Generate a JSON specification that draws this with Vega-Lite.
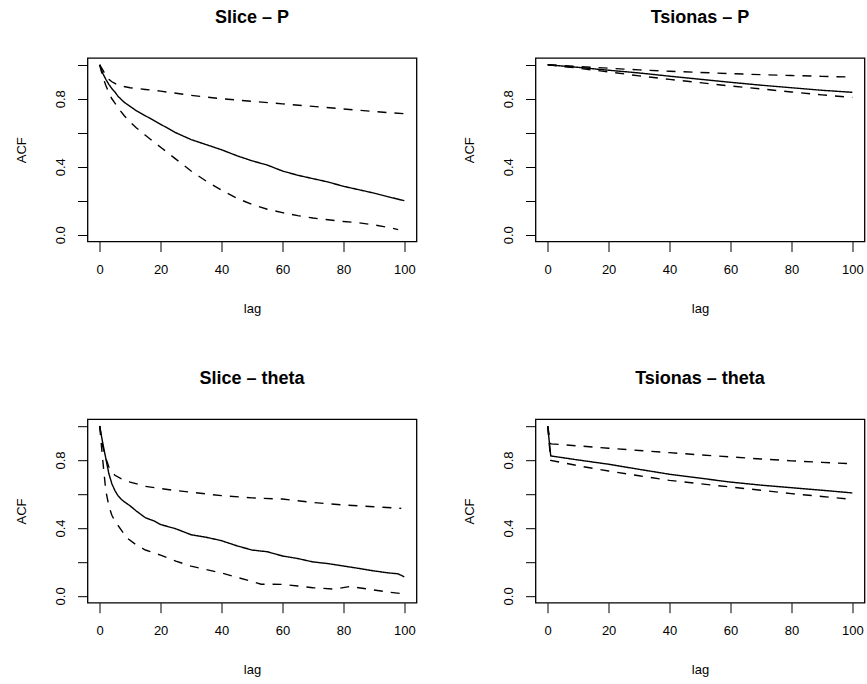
{
"$schema": "https://vega.github.io/schema/vega-lite/v6.json",
"background": "white",
"padding": {"left": 14.5, "top": 8, "right": 0, "bottom": 0},
"datasets": {
"acf": [
{"p":"SP","s":"acf","lag":0,"acf":1},{"p":"SP","s":"acf","lag":1,"acf":0.95},{"p":"SP","s":"acf","lag":2,"acf":0.915},{"p":"SP","s":"acf","lag":3,"acf":0.885},{"p":"SP","s":"acf","lag":4,"acf":0.86},{"p":"SP","s":"acf","lag":5,"acf":0.84},{"p":"SP","s":"acf","lag":6,"acf":0.815},{"p":"SP","s":"acf","lag":8,"acf":0.78},{"p":"SP","s":"acf","lag":10,"acf":0.755},{"p":"SP","s":"acf","lag":12,"acf":0.73},{"p":"SP","s":"acf","lag":15,"acf":0.7},{"p":"SP","s":"acf","lag":20,"acf":0.65},{"p":"SP","s":"acf","lag":25,"acf":0.6},{"p":"SP","s":"acf","lag":30,"acf":0.56},{"p":"SP","s":"acf","lag":35,"acf":0.53},{"p":"SP","s":"acf","lag":40,"acf":0.5},{"p":"SP","s":"acf","lag":45,"acf":0.465},{"p":"SP","s":"acf","lag":50,"acf":0.435},{"p":"SP","s":"acf","lag":55,"acf":0.41},{"p":"SP","s":"acf","lag":60,"acf":0.375},{"p":"SP","s":"acf","lag":65,"acf":0.35},{"p":"SP","s":"acf","lag":70,"acf":0.33},{"p":"SP","s":"acf","lag":75,"acf":0.31},{"p":"SP","s":"acf","lag":80,"acf":0.285},{"p":"SP","s":"acf","lag":85,"acf":0.265},{"p":"SP","s":"acf","lag":90,"acf":0.245},{"p":"SP","s":"acf","lag":95,"acf":0.222},{"p":"SP","s":"acf","lag":100,"acf":0.2},
{"p":"SP","s":"upper","lag":0,"acf":1},{"p":"SP","s":"upper","lag":1,"acf":0.97},{"p":"SP","s":"upper","lag":2,"acf":0.94},{"p":"SP","s":"upper","lag":3,"acf":0.915},{"p":"SP","s":"upper","lag":4,"acf":0.9},{"p":"SP","s":"upper","lag":5,"acf":0.89},{"p":"SP","s":"upper","lag":7,"acf":0.875},{"p":"SP","s":"upper","lag":10,"acf":0.865},{"p":"SP","s":"upper","lag":15,"acf":0.855},{"p":"SP","s":"upper","lag":20,"acf":0.845},{"p":"SP","s":"upper","lag":30,"acf":0.82},{"p":"SP","s":"upper","lag":40,"acf":0.8},{"p":"SP","s":"upper","lag":50,"acf":0.785},{"p":"SP","s":"upper","lag":60,"acf":0.77},{"p":"SP","s":"upper","lag":70,"acf":0.755},{"p":"SP","s":"upper","lag":80,"acf":0.74},{"p":"SP","s":"upper","lag":90,"acf":0.725},{"p":"SP","s":"upper","lag":100,"acf":0.712},
{"p":"SP","s":"lower","lag":0,"acf":1},{"p":"SP","s":"lower","lag":1,"acf":0.93},{"p":"SP","s":"lower","lag":2,"acf":0.88},{"p":"SP","s":"lower","lag":3,"acf":0.835},{"p":"SP","s":"lower","lag":4,"acf":0.8},{"p":"SP","s":"lower","lag":5,"acf":0.775},{"p":"SP","s":"lower","lag":6,"acf":0.748},{"p":"SP","s":"lower","lag":8,"acf":0.702},{"p":"SP","s":"lower","lag":10,"acf":0.663},{"p":"SP","s":"lower","lag":12,"acf":0.63},{"p":"SP","s":"lower","lag":15,"acf":0.585},{"p":"SP","s":"lower","lag":20,"acf":0.515},{"p":"SP","s":"lower","lag":25,"acf":0.445},{"p":"SP","s":"lower","lag":30,"acf":0.375},{"p":"SP","s":"lower","lag":35,"acf":0.315},{"p":"SP","s":"lower","lag":40,"acf":0.262},{"p":"SP","s":"lower","lag":45,"acf":0.215},{"p":"SP","s":"lower","lag":50,"acf":0.178},{"p":"SP","s":"lower","lag":55,"acf":0.15},{"p":"SP","s":"lower","lag":60,"acf":0.13},{"p":"SP","s":"lower","lag":65,"acf":0.112},{"p":"SP","s":"lower","lag":70,"acf":0.098},{"p":"SP","s":"lower","lag":75,"acf":0.088},{"p":"SP","s":"lower","lag":80,"acf":0.078},{"p":"SP","s":"lower","lag":85,"acf":0.07},{"p":"SP","s":"lower","lag":90,"acf":0.058},{"p":"SP","s":"lower","lag":95,"acf":0.042},{"p":"SP","s":"lower","lag":98,"acf":0.03},
{"p":"TP","s":"acf","lag":0,"acf":1},{"p":"TP","s":"acf","lag":10,"acf":0.985},{"p":"TP","s":"acf","lag":20,"acf":0.968},{"p":"TP","s":"acf","lag":30,"acf":0.952},{"p":"TP","s":"acf","lag":40,"acf":0.933},{"p":"TP","s":"acf","lag":50,"acf":0.915},{"p":"TP","s":"acf","lag":60,"acf":0.897},{"p":"TP","s":"acf","lag":70,"acf":0.88},{"p":"TP","s":"acf","lag":80,"acf":0.865},{"p":"TP","s":"acf","lag":90,"acf":0.85},{"p":"TP","s":"acf","lag":100,"acf":0.838},
{"p":"TP","s":"upper","lag":0,"acf":1},{"p":"TP","s":"upper","lag":10,"acf":0.99},{"p":"TP","s":"upper","lag":20,"acf":0.98},{"p":"TP","s":"upper","lag":30,"acf":0.97},{"p":"TP","s":"upper","lag":40,"acf":0.962},{"p":"TP","s":"upper","lag":50,"acf":0.955},{"p":"TP","s":"upper","lag":60,"acf":0.948},{"p":"TP","s":"upper","lag":70,"acf":0.942},{"p":"TP","s":"upper","lag":80,"acf":0.937},{"p":"TP","s":"upper","lag":90,"acf":0.932},{"p":"TP","s":"upper","lag":100,"acf":0.928},
{"p":"TP","s":"lower","lag":0,"acf":1},{"p":"TP","s":"lower","lag":10,"acf":0.98},{"p":"TP","s":"lower","lag":20,"acf":0.958},{"p":"TP","s":"lower","lag":30,"acf":0.935},{"p":"TP","s":"lower","lag":40,"acf":0.914},{"p":"TP","s":"lower","lag":50,"acf":0.895},{"p":"TP","s":"lower","lag":60,"acf":0.875},{"p":"TP","s":"lower","lag":70,"acf":0.858},{"p":"TP","s":"lower","lag":80,"acf":0.84},{"p":"TP","s":"lower","lag":90,"acf":0.823},{"p":"TP","s":"lower","lag":100,"acf":0.808},
{"p":"ST","s":"acf","lag":0,"acf":1},{"p":"ST","s":"acf","lag":1,"acf":0.9},{"p":"ST","s":"acf","lag":2,"acf":0.81},{"p":"ST","s":"acf","lag":3,"acf":0.72},{"p":"ST","s":"acf","lag":4,"acf":0.66},{"p":"ST","s":"acf","lag":5,"acf":0.62},{"p":"ST","s":"acf","lag":6,"acf":0.59},{"p":"ST","s":"acf","lag":7,"acf":0.57},{"p":"ST","s":"acf","lag":8,"acf":0.555},{"p":"ST","s":"acf","lag":10,"acf":0.53},{"p":"ST","s":"acf","lag":12,"acf":0.5},{"p":"ST","s":"acf","lag":15,"acf":0.46},{"p":"ST","s":"acf","lag":18,"acf":0.44},{"p":"ST","s":"acf","lag":20,"acf":0.42},{"p":"ST","s":"acf","lag":25,"acf":0.395},{"p":"ST","s":"acf","lag":30,"acf":0.36},{"p":"ST","s":"acf","lag":35,"acf":0.345},{"p":"ST","s":"acf","lag":40,"acf":0.325},{"p":"ST","s":"acf","lag":45,"acf":0.295},{"p":"ST","s":"acf","lag":50,"acf":0.27},{"p":"ST","s":"acf","lag":55,"acf":0.26},{"p":"ST","s":"acf","lag":60,"acf":0.235},{"p":"ST","s":"acf","lag":65,"acf":0.22},{"p":"ST","s":"acf","lag":70,"acf":0.2},{"p":"ST","s":"acf","lag":75,"acf":0.19},{"p":"ST","s":"acf","lag":80,"acf":0.176},{"p":"ST","s":"acf","lag":85,"acf":0.162},{"p":"ST","s":"acf","lag":90,"acf":0.147},{"p":"ST","s":"acf","lag":95,"acf":0.135},{"p":"ST","s":"acf","lag":98,"acf":0.13},{"p":"ST","s":"acf","lag":100,"acf":0.112},
{"p":"ST","s":"upper","lag":0,"acf":1},{"p":"ST","s":"upper","lag":1,"acf":0.88},{"p":"ST","s":"upper","lag":2,"acf":0.81},{"p":"ST","s":"upper","lag":3,"acf":0.76},{"p":"ST","s":"upper","lag":4,"acf":0.73},{"p":"ST","s":"upper","lag":5,"acf":0.71},{"p":"ST","s":"upper","lag":7,"acf":0.69},{"p":"ST","s":"upper","lag":10,"acf":0.67},{"p":"ST","s":"upper","lag":15,"acf":0.645},{"p":"ST","s":"upper","lag":20,"acf":0.632},{"p":"ST","s":"upper","lag":25,"acf":0.62},{"p":"ST","s":"upper","lag":30,"acf":0.61},{"p":"ST","s":"upper","lag":40,"acf":0.59},{"p":"ST","s":"upper","lag":50,"acf":0.577},{"p":"ST","s":"upper","lag":60,"acf":0.57},{"p":"ST","s":"upper","lag":65,"acf":0.56},{"p":"ST","s":"upper","lag":70,"acf":0.55},{"p":"ST","s":"upper","lag":80,"acf":0.535},{"p":"ST","s":"upper","lag":90,"acf":0.525},{"p":"ST","s":"upper","lag":99,"acf":0.515},
{"p":"ST","s":"lower","lag":0,"acf":1},{"p":"ST","s":"lower","lag":1,"acf":0.8},{"p":"ST","s":"lower","lag":2,"acf":0.62},{"p":"ST","s":"lower","lag":3,"acf":0.53},{"p":"ST","s":"lower","lag":4,"acf":0.475},{"p":"ST","s":"lower","lag":5,"acf":0.44},{"p":"ST","s":"lower","lag":7,"acf":0.39},{"p":"ST","s":"lower","lag":9,"acf":0.34},{"p":"ST","s":"lower","lag":12,"acf":0.3},{"p":"ST","s":"lower","lag":15,"acf":0.27},{"p":"ST","s":"lower","lag":20,"acf":0.24},{"p":"ST","s":"lower","lag":25,"acf":0.205},{"p":"ST","s":"lower","lag":30,"acf":0.175},{"p":"ST","s":"lower","lag":35,"acf":0.155},{"p":"ST","s":"lower","lag":40,"acf":0.135},{"p":"ST","s":"lower","lag":45,"acf":0.11},{"p":"ST","s":"lower","lag":50,"acf":0.085},{"p":"ST","s":"lower","lag":53,"acf":0.069},{"p":"ST","s":"lower","lag":60,"acf":0.068},{"p":"ST","s":"lower","lag":65,"acf":0.058},{"p":"ST","s":"lower","lag":70,"acf":0.048},{"p":"ST","s":"lower","lag":77,"acf":0.04},{"p":"ST","s":"lower","lag":82,"acf":0.055},{"p":"ST","s":"lower","lag":85,"acf":0.048},{"p":"ST","s":"lower","lag":90,"acf":0.035},{"p":"ST","s":"lower","lag":95,"acf":0.022},{"p":"ST","s":"lower","lag":99,"acf":0.014},
{"p":"TT","s":"acf","lag":0,"acf":1},{"p":"TT","s":"acf","lag":1,"acf":0.824},{"p":"TT","s":"acf","lag":10,"acf":0.8},{"p":"TT","s":"acf","lag":20,"acf":0.775},{"p":"TT","s":"acf","lag":30,"acf":0.745},{"p":"TT","s":"acf","lag":40,"acf":0.716},{"p":"TT","s":"acf","lag":50,"acf":0.693},{"p":"TT","s":"acf","lag":60,"acf":0.67},{"p":"TT","s":"acf","lag":70,"acf":0.652},{"p":"TT","s":"acf","lag":80,"acf":0.637},{"p":"TT","s":"acf","lag":90,"acf":0.622},{"p":"TT","s":"acf","lag":100,"acf":0.606},
{"p":"TT","s":"upper","lag":0,"acf":1},{"p":"TT","s":"upper","lag":1,"acf":0.895},{"p":"TT","s":"upper","lag":10,"acf":0.883},{"p":"TT","s":"upper","lag":20,"acf":0.869},{"p":"TT","s":"upper","lag":30,"acf":0.856},{"p":"TT","s":"upper","lag":40,"acf":0.843},{"p":"TT","s":"upper","lag":50,"acf":0.83},{"p":"TT","s":"upper","lag":60,"acf":0.818},{"p":"TT","s":"upper","lag":70,"acf":0.806},{"p":"TT","s":"upper","lag":80,"acf":0.795},{"p":"TT","s":"upper","lag":90,"acf":0.786},{"p":"TT","s":"upper","lag":100,"acf":0.778},
{"p":"TT","s":"lower","lag":0,"acf":1},{"p":"TT","s":"lower","lag":1,"acf":0.798},{"p":"TT","s":"lower","lag":10,"acf":0.766},{"p":"TT","s":"lower","lag":20,"acf":0.735},{"p":"TT","s":"lower","lag":30,"acf":0.707},{"p":"TT","s":"lower","lag":40,"acf":0.68},{"p":"TT","s":"lower","lag":50,"acf":0.66},{"p":"TT","s":"lower","lag":60,"acf":0.641},{"p":"TT","s":"lower","lag":70,"acf":0.622},{"p":"TT","s":"lower","lag":80,"acf":0.602},{"p":"TT","s":"lower","lag":90,"acf":0.585},{"p":"TT","s":"lower","lag":100,"acf":0.568}
]
},
"columns": 2,
"spacing": {"row": 177.2, "column": 119},
"bounds": "flush",
"concat": [
{"title": "Slice – P", "width": 329, "height": 183.5, "data": {"name": "acf"}, "transform": [{"filter": "datum.p === 'SP'"}],
 "mark": {"type": "line", "color": "black", "strokeWidth": 1.4},
 "encoding": {
  "x": {"field": "lag", "type": "quantitative", "scale": {"domain": [-4, 104], "nice": false, "zero": false}, "axis": {"values": [0, 20, 40, 60, 80, 100], "title": "lag"}},
  "y": {"field": "acf", "type": "quantitative", "scale": {"domain": [-0.04, 1.04], "nice": false, "zero": false}, "axis": {"values": [0, 0.2, 0.4, 0.6, 0.8, 1], "format": ".1f", "labelExpr": "(datum.value === 0 || datum.value === 0.4 || datum.value === 0.8) ? datum.label : ''", "title": "ACF"}},
  "strokeDash": {"field": "s", "type": "nominal", "scale": {"domain": ["acf", "upper", "lower"], "range": [[1, 0], [9, 8], [9, 8]]}, "legend": null}
 }},
{"title": "Tsionas – P", "width": 329, "height": 183.5, "data": {"name": "acf"}, "transform": [{"filter": "datum.p === 'TP'"}],
 "mark": {"type": "line", "color": "black", "strokeWidth": 1.4},
 "encoding": {
  "x": {"field": "lag", "type": "quantitative", "scale": {"domain": [-4, 104], "nice": false, "zero": false}, "axis": {"values": [0, 20, 40, 60, 80, 100], "title": "lag"}},
  "y": {"field": "acf", "type": "quantitative", "scale": {"domain": [-0.04, 1.04], "nice": false, "zero": false}, "axis": {"values": [0, 0.2, 0.4, 0.6, 0.8, 1], "format": ".1f", "labelExpr": "(datum.value === 0 || datum.value === 0.4 || datum.value === 0.8) ? datum.label : ''", "title": "ACF"}},
  "strokeDash": {"field": "s", "type": "nominal", "scale": {"domain": ["acf", "upper", "lower"], "range": [[1, 0], [9, 8], [9, 8]]}, "legend": null}
 }},
{"title": "Slice – theta", "width": 329, "height": 183.5, "data": {"name": "acf"}, "transform": [{"filter": "datum.p === 'ST'"}],
 "mark": {"type": "line", "color": "black", "strokeWidth": 1.4},
 "encoding": {
  "x": {"field": "lag", "type": "quantitative", "scale": {"domain": [-4, 104], "nice": false, "zero": false}, "axis": {"values": [0, 20, 40, 60, 80, 100], "title": "lag"}},
  "y": {"field": "acf", "type": "quantitative", "scale": {"domain": [-0.04, 1.04], "nice": false, "zero": false}, "axis": {"values": [0, 0.2, 0.4, 0.6, 0.8, 1], "format": ".1f", "labelExpr": "(datum.value === 0 || datum.value === 0.4 || datum.value === 0.8) ? datum.label : ''", "title": "ACF"}},
  "strokeDash": {"field": "s", "type": "nominal", "scale": {"domain": ["acf", "upper", "lower"], "range": [[1, 0], [9, 8], [9, 8]]}, "legend": null}
 }},
{"title": "Tsionas – theta", "width": 329, "height": 183.5, "data": {"name": "acf"}, "transform": [{"filter": "datum.p === 'TT'"}],
 "mark": {"type": "line", "color": "black", "strokeWidth": 1.4},
 "encoding": {
  "x": {"field": "lag", "type": "quantitative", "scale": {"domain": [-4, 104], "nice": false, "zero": false}, "axis": {"values": [0, 20, 40, 60, 80, 100], "title": "lag"}},
  "y": {"field": "acf", "type": "quantitative", "scale": {"domain": [-0.04, 1.04], "nice": false, "zero": false}, "axis": {"values": [0, 0.2, 0.4, 0.6, 0.8, 1], "format": ".1f", "labelExpr": "(datum.value === 0 || datum.value === 0.4 || datum.value === 0.8) ? datum.label : ''", "title": "ACF"}},
  "strokeDash": {"field": "s", "type": "nominal", "scale": {"domain": ["acf", "upper", "lower"], "range": [[1, 0], [9, 8], [9, 8]]}, "legend": null}
 }}
],
"config": {
 "view": {"stroke": "black", "strokeWidth": 1.3},
 "axis": {"domain": false, "grid": false, "tickColor": "black", "tickSize": 10, "tickWidth": 1, "labelFont": "Liberation Sans", "labelFontSize": 13, "labelColor": "black", "titleFont": "Liberation Sans", "titleFontSize": 13, "titleFontWeight": "normal", "titleColor": "black", "labelOverlap": false},
 "axisX": {"labelPadding": 12, "minExtent": 30, "maxExtent": 30, "titlePadding": 31},
 "axisY": {"labelAngle": -90, "labelAlign": "center", "labelBaseline": "alphabetic", "labelPadding": 12.7, "minExtent": 40, "maxExtent": 40, "titlePadding": 18.8},
 "title": {"font": "Liberation Sans", "fontSize": 18, "fontWeight": "bold", "color": "black", "frame": "group", "baseline": "alphabetic", "offset": 31, "anchor": "middle"}
}
}
